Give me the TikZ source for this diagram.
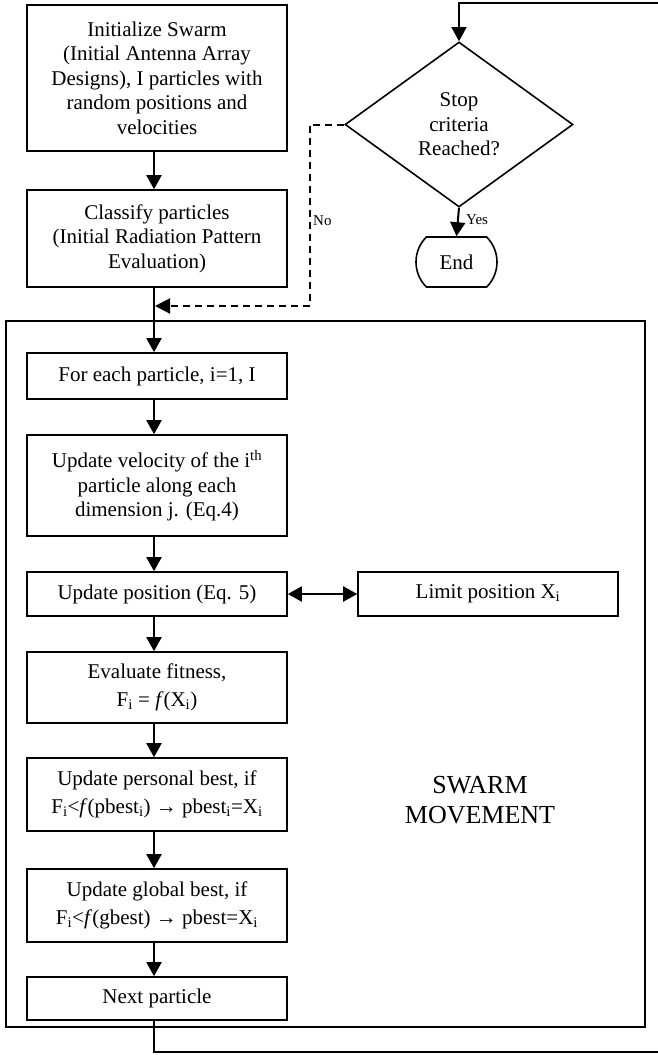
\documentclass[tikz,border=0pt]{standalone}
\usepackage{fontspec}
\setmainfont{Liberation Serif}
\usetikzlibrary{arrows.meta,shapes.geometric,shapes.misc}
\begin{document}
\begin{tikzpicture}[x=1pt,y=-1pt,
  every node/.style={font=\fontsize{21}{24.5}\selectfont, inner sep=0pt},
  procbox/.style={draw, line width=1.6pt, minimum width=260pt, align=center},
  flow/.style={line width=2pt, -{Triangle[length=14pt,width=15pt]}},
  biflow/.style={line width=2pt, {Triangle[length=14pt,width=15pt]}-{Triangle[length=14pt,width=15pt]}},
  dflow/.style={line width=2pt, dash pattern=on 7pt off 5pt, -{Triangle[length=15pt,width=15pt]}},
  loopline/.style={line width=1.4pt, -{Triangle[length=14pt,width=15pt]}},
  small/.style={font=\fontsize{15}{18}\selectfont}
]
\useasboundingbox (0,0) rectangle (658,1055);

% outer frame
\node[draw, line width=1.3pt, minimum width=639pt, minimum height=706pt] (frame) at (325.5,674) {};
\node[font=\fontsize{26}{30}\selectfont, align=center] (swarm) at (480,800) {SWARM\\MOVEMENT};

% main column
\node[procbox, minimum height=146pt] (b1) at (157,78)
  {Initialize Swarm\\(Initial Antenna Array\\Designs), I particles with\\random positions and\\velocities};
\node[procbox, minimum height=97pt] (b2) at (157,238.5)
  {Classify particles\\(Initial Radiation Pattern\\Evaluation)};
\node[procbox, minimum height=46pt] (b3) at (157,376) {For each particle, i=1, I};
\node[procbox, minimum height=101pt] (b4) at (157,485.5)
  {Update velocity of the i\textsuperscript{th}\\particle along each\\dimension j. (Eq.4)};
\node[procbox, minimum height=44pt] (b5) at (157,594) {Update position (Eq. 5)};
\node[procbox, minimum height=44pt] (lim) at (488,594) {Limit position X\textsubscript{i}};
\node[procbox, minimum height=71pt] (b6) at (157,687.5)
  {Evaluate fitness,\\[3pt]F\textsubscript{i} = \textit{f}(X\textsubscript{i})};
\node[procbox, minimum height=73pt] (b7) at (157,794.5)
  {Update personal best, if\\[3pt]F\textsubscript{i}<\textit{f}(pbest\textsubscript{i}) → pbest\textsubscript{i}=X\textsubscript{i}};
\node[procbox, minimum height=73pt] (b8) at (157,905.5)
  {Update global best, if\\[3pt]F\textsubscript{i}<\textit{f}(gbest) → pbest=X\textsubscript{i}};
\node[procbox, minimum height=43pt] (b9) at (157,998.5) {Next particle};

% decision and end
\node[draw, diamond, line width=1.6pt, minimum width=228pt, minimum height=165pt, align=center] (dia) at (459,124.5)
  {Stop\\criteria\\Reached?};
\node[draw, rounded rectangle, rounded rectangle arc length=90, line width=1.6pt, minimum width=81pt, minimum height=50pt] (end) at (456.5,262) {End};

\node[small, anchor=west] (yes) at (466,220) {Yes};
\node[small, anchor=west] (no) at (313,221) {No};

% helper coordinates
\coordinate (mj) at (154,306);
\coordinate (dc) at (310,306);
\coordinate (rb) at (668,1052);
\coordinate (rt) at (668,3);

% connectors
\draw[flow] ([xshift=-3pt]b1.south) -- ([xshift=-3pt]b2.north);
\draw[flow] ([xshift=-3pt]b2.south) -- ([xshift=-3pt]b3.north);
\draw[flow] ([xshift=-3pt]b3.south) -- ([xshift=-3pt]b4.north);
\draw[flow] ([xshift=-3pt]b4.south) -- ([xshift=-3pt]b5.north);
\draw[flow] ([xshift=-3pt]b5.south) -- ([xshift=-3pt]b6.north);
\draw[flow] ([xshift=-3pt]b6.south) -- ([xshift=-3pt]b7.north);
\draw[flow] ([xshift=-3pt]b7.south) -- ([xshift=-3pt]b8.north);
\draw[flow] ([xshift=-3pt]b8.south) -- ([xshift=-3pt]b9.north);
\draw[biflow] (b5.east) -- (lim.west);
\draw[flow] (dia.south) -- (end.north);
\draw[dflow] (dia.west) -| (dc) -- ([xshift=1pt]mj);
\draw[loopline] ([xshift=-3pt]b9.south) |- (rb) -- (rt) -| (dia.north);
\end{tikzpicture}
\end{document}
